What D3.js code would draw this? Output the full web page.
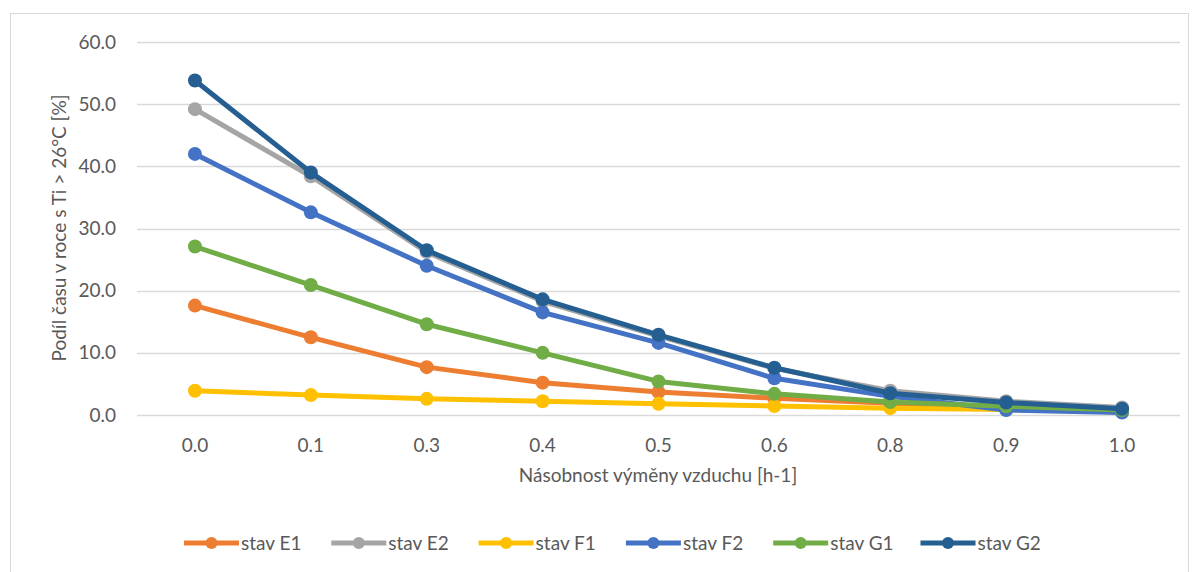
<!DOCTYPE html>
<html>
<head>
<meta charset="utf-8">
<script src="https://cdn.jsdelivr.net/npm/d3@7/dist/d3.min.js"></script>
<style>
  html, body { margin: 0; padding: 0; background: #fff; }
  svg { display: block; font-family: Lato, "Open Sans", sans-serif; }
</style>
</head>
<body>
<svg id="chart" width="1199" height="572"></svg>
<script>
// Air change rate categories (h-1)
const categories = ["0.0", "0.1", "0.3", "0.4", "0.5", "0.6", "0.8", "0.9", "1.0"];

// Share of the year with Ti > 26 °C [%], one array per state
const stavE1 = [17.6, 12.5, 7.7, 5.2, 3.7, 2.7, 1.9, 1.2, 0.7];
const stavE2 = [49.2, 38.4, 26.2, 18.3, 12.7, 7.5, 3.9, 2.2, 1.2];
const stavF1 = [3.9, 3.2, 2.6, 2.2, 1.8, 1.45, 1.1, 0.9, 0.5];
const stavF2 = [42.0, 32.6, 24.0, 16.5, 11.6, 5.9, 3.0, 0.8, 0.4];
const stavG1 = [27.1, 20.9, 14.6, 10.0, 5.4, 3.4, 2.1, 1.4, 0.8];
const stavG2 = [53.8, 39.0, 26.5, 18.6, 12.9, 7.6, 3.5, 2.0, 1.0];

const seriesNames = ["stav E1", "stav E2", "stav F1", "stav F2", "stav G1", "stav G2"];
const seriesValues = [stavE1, stavE2, stavF1, stavF2, stavG1, stavG2];
const seriesColors = ["#ED7D31", "#A5A5A5", "#FFC000", "#4472C4", "#70AD47", "#255E91"];

const yTicks = [0, 10, 20, 30, 40, 50, 60];

const FONT_SIZE = "19px";
const TEXT_COLOR = "#595959";

const svg = d3.select("#chart");

// chart area border
svg.append("rect")
  .attr("x", 10.5).attr("y", 13.5)
  .attr("width", 1178).attr("height", 570)
  .attr("fill", "#fff").attr("stroke", "#d9d9d9").attr("stroke-width", 1);

const plot = { left: 137, right: 1180, top: 42, bottom: 415 };

const x = d3.scaleBand().domain(categories).range([plot.left, plot.right]);
const y = d3.scaleLinear().domain([0, 60]).range([plot.bottom, plot.top]);

// horizontal gridlines
svg.append("g")
  .selectAll("line")
  .data(yTicks)
  .join("line")
  .attr("x1", plot.left).attr("x2", plot.right)
  .attr("y1", d => Math.round(y(d)) + 0.5).attr("y2", d => Math.round(y(d)) + 0.5)
  .attr("stroke", "#d9d9d9").attr("stroke-width", 1.5);

// y axis labels
const yAxis = d3.axisLeft(y).tickValues(yTicks).tickFormat(d3.format(".1f")).tickSize(0).tickPadding(0);
const yg = svg.append("g").attr("transform", "translate(116,0)").call(yAxis);
yg.select(".domain").remove();
yg.selectAll("text").attr("fill", TEXT_COLOR).style("font-size", FONT_SIZE).style("font-family", "Lato, sans-serif");

// x axis labels
const xAxis = d3.axisBottom(x).tickSize(0).tickPadding(0);
const xg = svg.append("g").attr("transform", `translate(0,${plot.bottom + 23})`).call(xAxis);
xg.select(".domain").remove();
xg.selectAll("text").attr("fill", TEXT_COLOR).style("font-size", FONT_SIZE).style("font-family", "Lato, sans-serif");

// axis titles
svg.append("text")
  .attr("transform", "translate(66,228) rotate(-90)")
  .attr("text-anchor", "middle")
  .attr("fill", TEXT_COLOR).style("font-size", FONT_SIZE)
  .text("Podíl času v roce s Ti > 26°C [%]");

svg.append("text")
  .attr("x", 658).attr("y", 482)
  .attr("text-anchor", "middle")
  .attr("fill", TEXT_COLOR).style("font-size", FONT_SIZE)
  .text("Násobnost výměny vzduchu [h-1]");

// series lines and markers
const line = d3.line()
  .x((d, i) => x(categories[i]) + x.bandwidth() / 2)
  .y(d => y(d));

seriesValues.forEach((vals, s) => {
  const g = svg.append("g");
  g.append("path")
    .datum(vals)
    .attr("d", line)
    .attr("fill", "none")
    .attr("stroke", seriesColors[s])
    .attr("stroke-width", 5)
    .attr("stroke-linejoin", "round")
    .attr("stroke-linecap", "round");
  g.selectAll("circle")
    .data(vals)
    .join("circle")
    .attr("cx", (d, i) => x(categories[i]) + x.bandwidth() / 2)
    .attr("cy", d => y(d))
    .attr("r", 7)
    .attr("fill", seriesColors[s]);
});

// legend
const legend = svg.append("g").attr("transform", "translate(184,543)");
seriesNames.forEach((name, s) => {
  const item = legend.append("g").attr("transform", `translate(${s * 147.3},0)`);
  item.append("line")
    .attr("x1", 0).attr("x2", 55).attr("y1", 0).attr("y2", 0)
    .attr("stroke", seriesColors[s]).attr("stroke-width", 5);
  item.append("circle").attr("cx", 27.5).attr("cy", 0).attr("r", 6).attr("fill", seriesColors[s]);
  item.append("text")
    .attr("x", 57).attr("y", 7)
    .attr("fill", TEXT_COLOR).style("font-size", FONT_SIZE)
    .text(name);
});
</script>
</body>
</html>
